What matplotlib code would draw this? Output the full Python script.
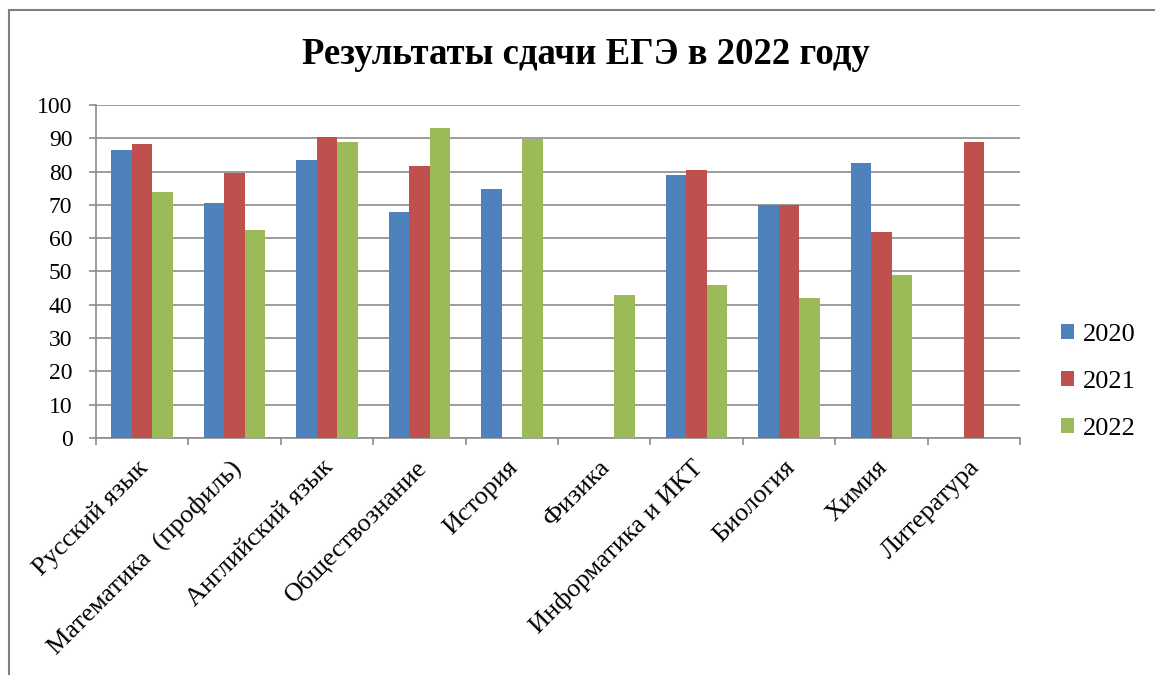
import numpy as np
import matplotlib
matplotlib.use("Agg")
import matplotlib.pyplot as plt
import matplotlib.transforms as mtransforms
from matplotlib.patches import Rectangle

categories = ["Русский язык", "Математика  (профиль)", "Английский язык",
              "Обществознание", "История", "Физика", "Информатика и ИКТ",
              "Биология", "Химия", "Литература"]
years = ["2020", "2021", "2022"]
v2020 = [86.5, 70.5, 83.6, 67.8, 74.8, np.nan, 78.9, 70.0, 82.5, np.nan]
v2021 = [88.2, 79.6, 90.5, 81.8, np.nan, np.nan, 80.4, 70.0, 61.9, 88.8]
v2022 = [73.9, 62.6, 88.8, 93.0, 89.7, 42.9, 45.8, 42.0, 48.9, np.nan]
colors = ["#4F81BD", "#C0504D", "#9BBB59"]
title = "Результаты сдачи ЕГЭ в 2022 году"

plt.rcParams['font.family'] = ['Liberation Serif', 'DejaVu Serif']

W, H = 1155, 675
fig = plt.figure(figsize=(W / 100, H / 100), dpi=100)
ax = fig.add_axes([96 / W, 1 - 438 / H, (1020 - 96) / W, (438 - 105) / H])

n = len(categories)
x = np.arange(n)
bw = 1 / (3 + 1.5)
series = [v2020, v2021, v2022]
for i, (vals, c, lab) in enumerate(zip(series, colors, years)):
    ax.bar(x + (i - 1) * bw, vals, width=bw, color=c, label=lab, zorder=3)

ax.set_xlim(-0.5, n - 0.5)
ax.set_ylim(0, 100)
ax.set_yticks(np.arange(0, 101, 10))
ax.yaxis.grid(True, color="#8C8C8C", linewidth=1.2, zorder=0)
ax.set_axisbelow(True)

gray = "#8C8C8C"
for s in ["top", "right"]:
    ax.spines[s].set_visible(False)
ax.spines["left"].set_color(gray)
ax.spines["bottom"].set_color(gray)
ax.spines["left"].set_linewidth(1.2)
ax.spines["bottom"].set_linewidth(1.2)

ax.set_xticks(np.arange(-0.5, n, 1.0))
ax.set_xticklabels([])
ax.tick_params(axis="x", which="major", length=5, color=gray, width=1.2)
ax.set_xticks(x, minor=True)
ax.set_xticklabels(categories, minor=True, rotation=45, ha="right",
                   rotation_mode="anchor", fontsize=19)
ax.tick_params(axis="x", which="minor", length=0, pad=13)
offset = mtransforms.ScaledTranslation(-5 / 100, 0, fig.dpi_scale_trans)
for lbl in ax.xaxis.get_minorticklabels():
    lbl.set_transform(lbl.get_transform() + offset)
ax.tick_params(axis="y", length=5, color=gray, width=1.2, pad=12, labelsize=17)

leg = fig.legend(loc="center left", bbox_to_anchor=(1037 / W, 1 - 382 / H),
                 frameon=False, fontsize=19, handlelength=0.5,
                 handleheight=0.5, handletextpad=0.35, labelspacing=0.95)

fig.text(0.507, 1 - 55 / H, title, ha="center", va="center",
         fontsize=26.5, fontweight="bold")

fig.patches.append(Rectangle((9 / W, -0.2), 2, (H - 10) / H + 0.2,
                             transform=fig.transFigure, fill=False,
                             edgecolor="#7F7F7F", linewidth=1.5))

fig.savefig("out.png", dpi=100)
